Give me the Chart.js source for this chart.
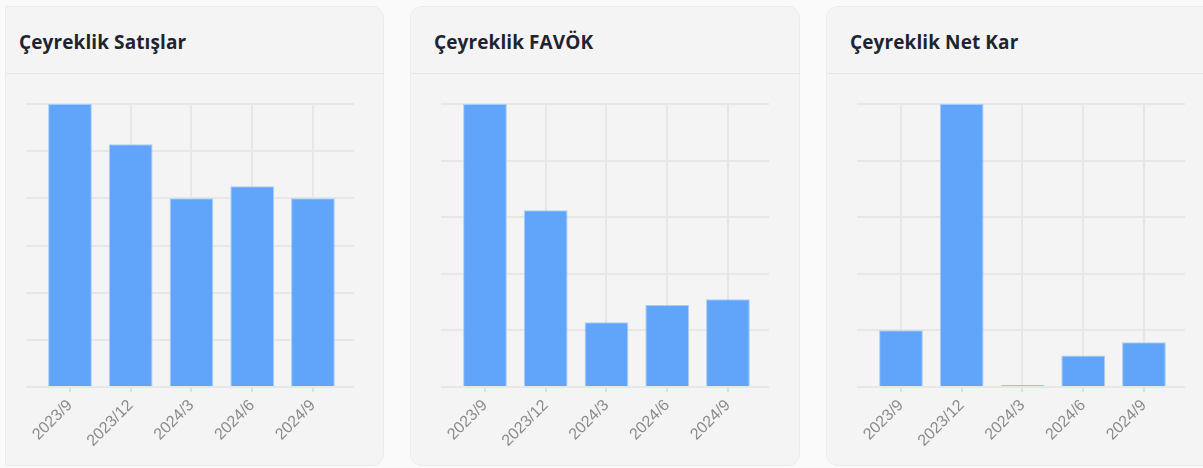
<!DOCTYPE html>
<html>
<head>
<meta charset="utf-8">
<script src="https://cdn.jsdelivr.net/npm/chart.js@4.4.1/dist/chart.umd.min.js"></script>
<style>
  html, body { margin: 0; padding: 0; }
  body { width: 1203px; height: 468px; background: #fafafa; position: relative; overflow: hidden; font-family: "Open Sans", "Liberation Sans", sans-serif; }
  .card { position: absolute; top: 6px; height: 460px; width: 390px; background: #f4f4f4; border: 1px solid #ebebeb; border-radius: 12px; box-sizing: border-box; }
  .card h3 { margin: 0; position: absolute; left: 23px; top: 22px; font-size: 19px; font-weight: 700; color: #1e2430; letter-spacing: 0.1px; }
  .card .sep { position: absolute; left: 0; right: 0; top: 66px; height: 1px; background: #e6e6e6; }
  .card .box { position: absolute; left: 19px; top: 89px; width: 350px; height: 364px; }
  .card.first { left: 5px; width: 379px; border-top-left-radius: 0; border-bottom-left-radius: 0; }
  .card.first h3 { left: 13px; }
  .card.first .box { left: 9px; }
</style>
</head>
<body>
<div class="card first"><h3>Çeyreklik Satışlar</h3><div class="sep"></div><div class="box"><canvas id="c1"></canvas></div></div>
<div class="card" style="left:410px;"><h3>Çeyreklik FAVÖK</h3><div class="sep"></div><div class="box"><canvas id="c2"></canvas></div></div>
<div class="card" style="left:826px;"><h3>Çeyreklik Net Kar</h3><div class="sep"></div><div class="box"><canvas id="c3"></canvas></div></div>
<script>
const quarters = ["2023/9", "2023/12", "2024/3", "2024/6", "2024/9"];
const salesValues = [11700, 10040, 7800, 8300, 7800];
const ebitdaValues = [2400, 1500, 550, 695, 745];
const netProfitValues = [495, 2465, 18, 275, 390];

function drawBars(id, values, step) {
  const ctx = document.getElementById(id).getContext("2d");
  return new Chart(ctx, {
    type: "bar",
    data: {
      datasets: [
        {
          data: values.map((v, i) => ({ x: i, y: v })),
          backgroundColor: "#61a5fa",
          borderColor: "#a9cdfb",
          borderWidth: 1,
          barPercentage: 0.9,
          categoryPercentage: 0.8,
        },
      ],
    },
    options: {
      animation: false,
      responsive: false,
      devicePixelRatio: 1,
      layout: { padding: { top: 8, left: 11, right: 11, bottom: 0 } },
      plugins: { legend: { display: false }, tooltip: { enabled: false } },
      scales: {
        x: {
          type: "linear",
          min: -0.724,
          max: 4.676,
          offset: false,
          border: { display: false },
          grid: { offset: false, color: "#e7e7e7", lineWidth: 2, tickLength: 5, tickColor: "#dedede" },
          ticks: {
            stepSize: 1,
            includeBounds: false,
            maxRotation: 45,
            minRotation: 45,
            color: "#8a8a8a",
            font: { family: "'Liberation Sans', Arial, sans-serif", size: 16 },
            padding: 4,
            callback: (v) => quarters[v],
          },
          afterFit: (scale) => { scale.height = 73; },
        },
        y: {
          min: 0,
          max: Math.max(...values),
          border: { display: false },
          grid: { color: "#e7e7e7", lineWidth: 2, drawTicks: false },
          ticks: { display: false, stepSize: step, includeBounds: false },
        },
      },
    },
  });
}

for (const id of ["c1", "c2", "c3"]) {
  const cv = document.getElementById(id);
  cv.width = 350;
  cv.height = 364;
}
drawBars("c1", salesValues, 2000);
drawBars("c2", ebitdaValues, 500);
drawBars("c3", netProfitValues, 500);
</script>
</body>
</html>
